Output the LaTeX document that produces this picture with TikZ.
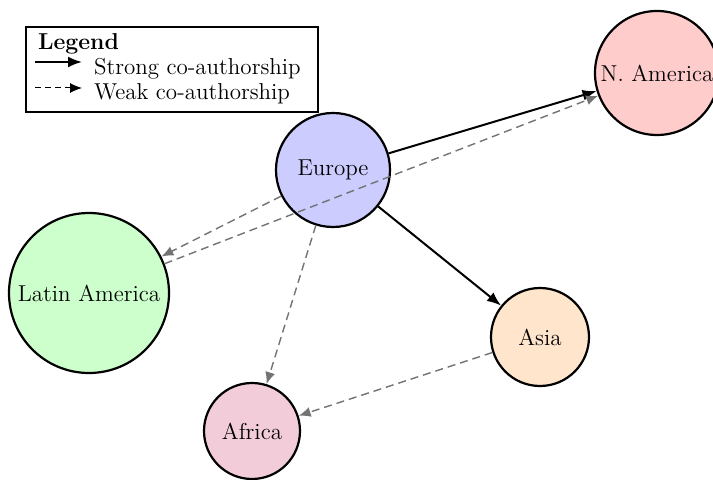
\documentclass[tikz,border=0pt]{standalone}
\usetikzlibrary{positioning, arrows.meta}

\begin{document}
\begin{tikzpicture}[x=0.5pt,y=-0.5pt]
    \tikzstyle{every node}=[font=\fontsize{11.5}{13}\selectfont, align=center]
    \tikzset{
        region/.style={draw, circle, line width=1.1pt, inner sep=0pt},
        strong/.style={-{Latex[length=7pt, width=5.5pt]}, line width=1pt},
        weak/.style={-{Latex[length=6pt, width=5pt]}, gray!90!black, line width=0.7pt, dash pattern=on 4pt off 2.5pt}
        }
    \useasboundingbox (0,0) rectangle (713,480);

    %legend
    \node (legend) [draw, line width=0.6pt, minimum width=146pt, minimum height=42.5pt] at (172,69.5) {};
    \node (title) [anchor=west, font=\fontsize{11.5}{13}\selectfont\bfseries] at (31,44) {Legend};
    \coordinate (s1) at (35,62);
    \coordinate (s2) at (82,62);
    \coordinate (w1) at (35,88);
    \coordinate (w2) at (82,88);
    \node (strongtext) [anchor=west] at (87,69) {Strong co-authorship};
    \node (weaktext) [anchor=west] at (87,94) {Weak co-authorship};
    \draw[strong] (s1) -- (s2);
    \draw[weak, black, line width=0.5pt, dash pattern=on 3pt off 2pt] (w1) -- (w2);

    %regions
    \node (europe) [region, fill=blue!20, minimum size=57pt] at (333,170) {Europe};
    \node (namerica) [region, fill=red!20, minimum size=62pt] at (657,73) {N. America};
    \node (latin) [region, fill=green!20, minimum size=80pt] at (89,293) {Latin\,\,America};
    \node (asia) [region, fill=orange!20, minimum size=49pt] at (540,337) {Asia};
    \node (africa) [region, fill=purple!20, minimum size=48pt] at (252,431) {Africa};

    %strong links
    \draw[strong] (europe) -- (namerica);
    \draw[strong] (europe) -- (asia);

    %weak links
    \draw[weak] (europe) -- (latin);
    \draw[weak] (latin) -- (namerica);
    \draw[weak] (europe) -- (africa);
    \draw[weak] (asia) -- (africa);
\end{tikzpicture}
\end{document}
